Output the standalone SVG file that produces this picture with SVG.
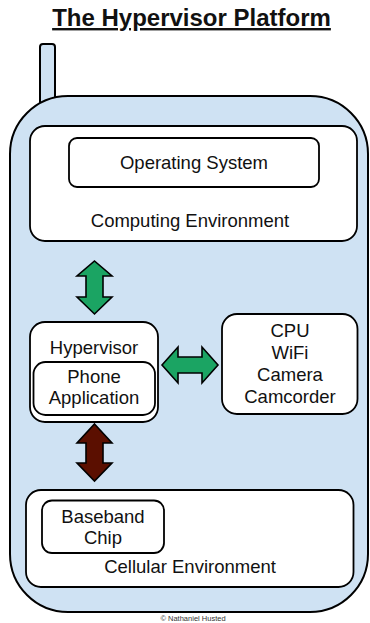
<svg xmlns="http://www.w3.org/2000/svg" width="370" height="623" viewBox="0 0 370 623">
  <style>
    text { font-family: "Liberation Sans", Arial, sans-serif; fill: #111; text-anchor: middle; }
    .lbl { font-size: 18.5px; }
    .title { font-size: 24px; font-weight: bold; text-decoration: underline; }
    .foot { font-size: 7.5px; fill: #333; }
    .shell { fill: #cfe2f3; stroke: #000; stroke-width: 2; }
    .box { fill: #fff; stroke: #000; stroke-width: 1.8; }
    .arrow { stroke: #000; stroke-width: 1.6; stroke-linejoin: miter; }
    .green { fill: #1ba463; }
    .red { fill: #5b0f00; }
  </style>

  <text class="title" x="191.5" y="26">The Hypervisor Platform</text>

  <!-- phone shell: antenna drawn first so the body covers its base -->
  <g id="phone">
    <rect class="shell" x="40" y="44" width="15" height="90" rx="3"/>
    <rect class="shell" x="10" y="96" width="358" height="516" rx="58"/>
  </g>

  <g id="computing-environment">
    <rect class="box" x="30" y="126" width="327" height="115" rx="15"/>
    <text class="lbl" x="190" y="227">Computing Environment</text>
  </g>

  <g id="operating-system">
    <rect class="box" x="69" y="138" width="250" height="49" rx="8"/>
    <text class="lbl" x="194" y="169">Operating System</text>
  </g>

  <g id="hypervisor">
    <rect class="box" x="30" y="322" width="128" height="100" rx="15"/>
    <text class="lbl" x="94" y="354">Hypervisor</text>
  </g>

  <g id="phone-application">
    <rect class="box" x="33.5" y="362" width="121.5" height="53" rx="12"/>
    <text class="lbl" x="94" y="383">Phone</text>
    <text class="lbl" x="94" y="404">Application</text>
  </g>

  <g id="hardware">
    <rect class="box" x="222" y="314" width="135.5" height="100" rx="15"/>
    <text class="lbl" x="290" y="337">CPU</text>
    <text class="lbl" x="290" y="359">WiFi</text>
    <text class="lbl" x="290" y="381">Camera</text>
    <text class="lbl" x="290" y="402.5">Camcorder</text>
  </g>

  <g id="cellular-environment">
    <rect class="box" x="26" y="490" width="327.5" height="97" rx="15"/>
    <text class="lbl" x="190" y="573">Cellular Environment</text>
  </g>

  <g id="baseband-chip">
    <rect class="box" x="42" y="500.5" width="122" height="52.5" rx="10"/>
    <text class="lbl" x="103" y="523">Baseband</text>
    <text class="lbl" x="103" y="544">Chip</text>
  </g>

  <g id="connectors">
    <polygon class="arrow green" points="94.5,261 112,276 103,276 103,297 112,297 94.5,314 77,297 86,297 86,276 77,276"/>
    <polygon class="arrow green" points="162,365 178,347 178,357 202,357 202,347 218,365 202,383 202,373 178,373 178,383"/>
    <polygon class="arrow red" points="94.5,424 112,443 103,443 103,463 112,463 94.5,481 77,463 86,463 86,443 77,443"/>
  </g>

  <text class="foot" x="193" y="621">© Nathaniel Husted</text>
</svg>
